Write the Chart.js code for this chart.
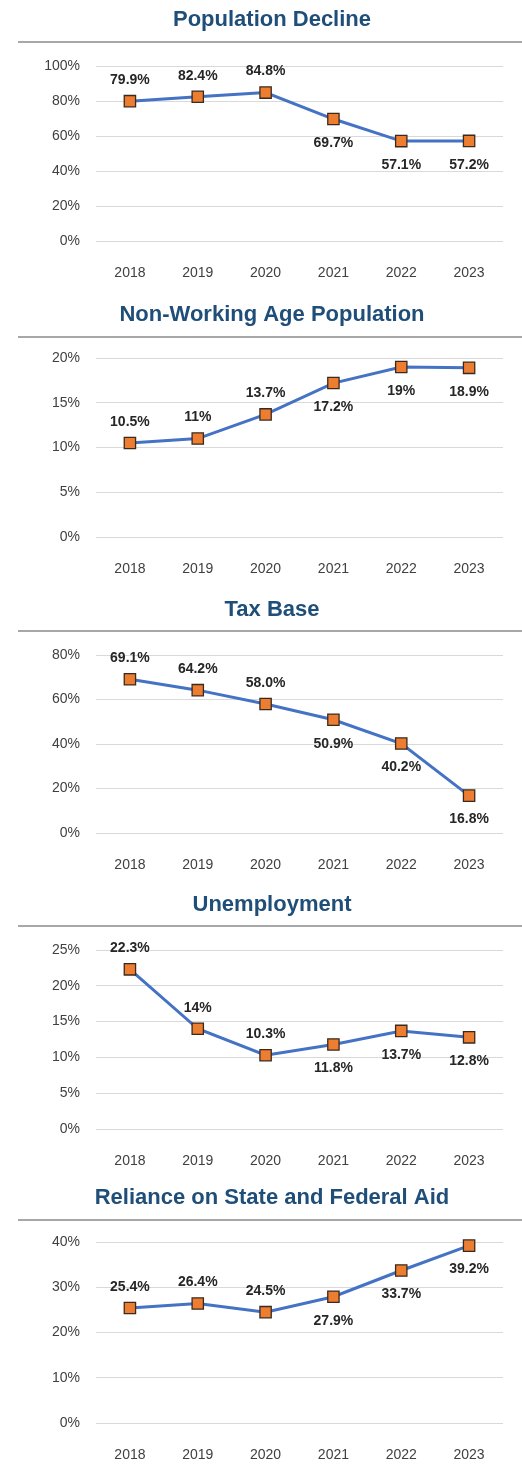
<!DOCTYPE html>
<html>
<head>
<meta charset="utf-8">
<script src="https://cdn.jsdelivr.net/npm/chart.js@4.4.1/dist/chart.umd.min.js"></script>
<style>
  html, body { margin: 0; padding: 0; background: #ffffff; }
  body { width: 522px; height: 1469px; position: relative; overflow: hidden; }
  .box { position: absolute; left: 0; width: 522px; }
</style>
</head>
<body>
<div class="box" id="b1"><canvas id="c1"></canvas></div>
<div class="box" id="b2"><canvas id="c2"></canvas></div>
<div class="box" id="b3"><canvas id="c3"></canvas></div>
<div class="box" id="b4"><canvas id="c4"></canvas></div>
<div class="box" id="b5"><canvas id="c5"></canvas></div>
<script>
// ---------- DATA ----------
const years = ['2018', '2019', '2020', '2021', '2022', '2023'];

const popDeclineTitle = 'Population Decline';
const popDeclineValues = [79.9, 82.4, 84.8, 69.7, 57.1, 57.2];
const popDeclineLabels = ['79.9%', '82.4%', '84.8%', '69.7%', '57.1%', '57.2%'];
const popDeclineTicks = [0, 20, 40, 60, 80, 100];

const nonWorkingTitle = 'Non-Working Age Population';
const nonWorkingValues = [10.5, 11, 13.7, 17.2, 19, 18.9];
const nonWorkingLabels = ['10.5%', '11%', '13.7%', '17.2%', '19%', '18.9%'];
const nonWorkingTicks = [0, 5, 10, 15, 20];

const taxBaseTitle = 'Tax Base';
const taxBaseValues = [69.1, 64.2, 58.0, 50.9, 40.2, 16.8];
const taxBaseLabels = ['69.1%', '64.2%', '58.0%', '50.9%', '40.2%', '16.8%'];
const taxBaseTicks = [0, 20, 40, 60, 80];

const unemploymentTitle = 'Unemployment';
const unemploymentValues = [22.3, 14, 10.3, 11.8, 13.7, 12.8];
const unemploymentLabels = ['22.3%', '14%', '10.3%', '11.8%', '13.7%', '12.8%'];
const unemploymentTicks = [0, 5, 10, 15, 20, 25];

const aidTitle = 'Reliance on State and Federal Aid';
const aidValues = [25.4, 26.4, 24.5, 27.9, 33.7, 39.2];
const aidLabels = ['25.4%', '26.4%', '24.5%', '27.9%', '33.7%', '39.2%'];
const aidTicks = [0, 10, 20, 30, 40];

// ---------- STYLE / LAYOUT ----------
const FONT = "'Liberation Sans', Arial, Helvetica, sans-serif";
const charts = [
  { id: 'c1', box: 'b1', top: 0,    height: 282, areaTop: 66, sepY: 42, title: popDeclineTitle, values: popDeclineValues, labels: popDeclineLabels, ticks: popDeclineTicks },
  { id: 'c2', box: 'b2', top: 295,  height: 283, areaTop: 63, sepY: 42, title: nonWorkingTitle, values: nonWorkingValues, labels: nonWorkingLabels, ticks: nonWorkingTicks },
  { id: 'c3', box: 'b3', top: 590,  height: 284, areaTop: 65, sepY: 41, title: taxBaseTitle, values: taxBaseValues, labels: taxBaseLabels, ticks: taxBaseTicks },
  { id: 'c4', box: 'b4', top: 885,  height: 285, areaTop: 65, sepY: 41, title: unemploymentTitle, values: unemploymentValues, labels: unemploymentLabels, ticks: unemploymentTicks },
  { id: 'c5', box: 'b5', top: 1178, height: 286, areaTop: 64, sepY: 42, title: aidTitle, values: aidValues, labels: aidLabels, ticks: aidTicks }
];

const separatorPlugin = {
  id: 'separator',
  afterDraw(chart, args, opts) {
    const ctx = chart.ctx;
    ctx.save();
    ctx.strokeStyle = '#8a8a8a';
    ctx.lineWidth = 1.5;
    ctx.beginPath();
    ctx.moveTo(18, opts.y);
    ctx.lineTo(522, opts.y);
    ctx.stroke();
    ctx.restore();
  }
};

const valueLabelPlugin = {
  id: 'valueLabels',
  afterDatasetsDraw(chart, args, opts) {
    const ctx = chart.ctx;
    const meta = chart.getDatasetMeta(0);
    ctx.save();
    ctx.font = 'bold 14px ' + FONT;
    ctx.fillStyle = '#262626';
    ctx.textAlign = 'center';
    ctx.textBaseline = 'middle';
    meta.data.forEach((pt, i) => {
      const below = i >= opts.belowFrom;
      const y = below ? pt.y + 24 : pt.y - 21;
      ctx.fillText(opts.texts[i], pt.x, y);
    });
    ctx.restore();
  }
};

const LEFT_PAD = 41;

charts.forEach(cfg => {
  const box = document.getElementById(cfg.box);
  box.style.top = cfg.top + 'px';
  box.style.height = cfg.height + 'px';
  const titleLine = 22 * 1.2;
  const padTop = 20 - titleLine / 2;
  const padBottom = cfg.areaTop - padTop - titleLine;
  const tickVals = cfg.ticks;
  new Chart(document.getElementById(cfg.id), {
    type: 'line',
    data: {
      labels: years,
      datasets: [{
        data: cfg.values,
        borderColor: '#4472C4',
        borderWidth: 3,
        tension: 0,
        pointStyle: 'rect',
        pointRadius: 8,
        pointHoverRadius: 8,
        pointBackgroundColor: '#ED7D31',
        pointBorderColor: '#3a2a1e',
        pointBorderWidth: 1.3,
        clip: false
      }]
    },
    options: {
      responsive: true,
      maintainAspectRatio: false,
      animation: false,
      events: [],
      layout: { padding: { left: LEFT_PAD, right: 19, top: 0, bottom: 0 } },
      plugins: {
        legend: { display: false },
        tooltip: { enabled: false },
        title: {
          display: true,
          text: cfg.title,
          color: '#1F4E79',
          font: { family: FONT, size: 22, weight: 'bold', lineHeight: 1.2 },
          padding: { top: padTop, bottom: padBottom }
        },
        separator: { y: cfg.sepY },
        valueLabels: { texts: cfg.labels, belowFrom: 3 }
      },
      scales: {
        x: {
          offset: true,
          afterFit(scale) { scale.height = 41; },
          grid: { display: false, drawTicks: false },
          border: { display: false },
          ticks: { color: '#404040', font: { family: FONT, size: 14 }, padding: 24 }
        },
        y: {
          min: tickVals[0],
          max: tickVals[tickVals.length - 1],
          afterBuildTicks(scale) { scale.ticks = tickVals.map(v => ({ value: v })); },
          afterFit(scale) { scale.width = 96 - LEFT_PAD; },
          grid: { color: '#d9d9d9', lineWidth: 1, drawTicks: false },
          border: { display: false },
          ticks: {
            color: '#404040',
            font: { family: FONT, size: 14 },
            padding: 16,
            callback: v => v + '%'
          }
        }
      }
    },
    plugins: [separatorPlugin, valueLabelPlugin]
  });
});
</script>
</body>
</html>
